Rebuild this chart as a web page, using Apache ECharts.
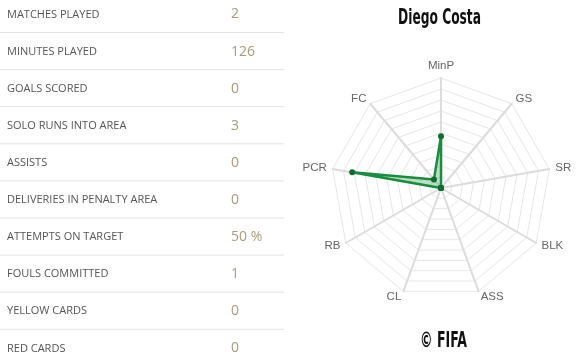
<!DOCTYPE html>
<html>
<head>
<meta charset="utf-8">
<script src="https://cdn.jsdelivr.net/npm/echarts@6/dist/echarts.min.js"></script>
<style>
html,body{margin:0;padding:0;background:#fff;}
#chart{width:580px;height:358px;}
</style>
</head>
<body>
<div id="chart"></div>
<script>
// Table data
var statLabels = ['MATCHES PLAYED','MINUTES PLAYED','GOALS SCORED','SOLO RUNS INTO AREA','ASSISTS','DELIVERIES IN PENALTY AREA','ATTEMPTS ON TARGET','FOULS COMMITTED','YELLOW CARDS','RED CARDS'];
var statValues = ['2','126','0','3','0','0','50 %','1','0','0'];

// Radar data (clockwise from top)
var radarAxes = ['MinP','GS','SR','BLK','ASS','CL','RB','PCR','FC'];
var radarValues = [0.47, 0, 0, 0, 0, 0, 0, 0.82, 0.10];
var radarMax = 1;

var playerName = 'Diego Costa';
var credit = '\u00A9 FIFA';

// ECharts places indicators counterclockwise, so reverse (keeping top first)
var order = [0].concat(radarAxes.map(function(_, i){return i;}).slice(1).reverse());
var indicators = order.map(function(i){ return {name: radarAxes[i], max: radarMax}; });
var values = order.map(function(i){ return radarValues[i]; });

// condensed heading font emulation: measure and squeeze horizontally
var headFont = 'bold 22px "DejaVu Sans", sans-serif';
var mctx = document.createElement('canvas').getContext('2d');
mctx.font = headFont;
function squeeze(txt, targetW){ return targetW / mctx.measureText(txt).width; }

var rowH = 37.1, row0 = 14.5;
var graphics = [];
statLabels.forEach(function(lbl, i){
  var cy = row0 + i*rowH;
  graphics.push({type:'text', x: 7, y: cy, style:{text: lbl, fill:'#555', font:'11px "Open Sans", sans-serif', textVerticalAlign:'middle'}});
  graphics.push({type:'text', x: 231, y: cy, style:{text: statValues[i], fill:'#a99c7c', font:'14px "Open Sans", sans-serif', textVerticalAlign:'middle'}});
  if (i < statLabels.length-1) {
    graphics.push({type:'line', shape:{x1:0, y1: cy+18, x2:284, y2: cy+18}, style:{stroke:'#e3e3e3', lineWidth:1}});
  }
});
graphics.push({type:'text', x: 439.5, y: 18.5, scaleX: squeeze(playerName, 83), style:{text: playerName, fill:'#111', font: headFont, textAlign:'center', textVerticalAlign:'middle'}});
graphics.push({type:'text', x: 443.5, y: 341.5, scaleX: squeeze(credit, 47), style:{text: credit, fill:'#111', font: headFont, textAlign:'center', textVerticalAlign:'middle'}});

var chart = echarts.init(document.getElementById('chart'), null, {renderer:'canvas'});
chart.setOption({
  animation: false,
  graphic: graphics,
  radar: {
    center: [441, 188],
    radius: 110,
    startAngle: 90,
    splitNumber: 10,
    shape: 'polygon',
    nameGap: 6,
    indicator: indicators,
    axisName: {color:'#666', fontSize: 11.5, fontFamily: '"Liberation Sans", Arial, sans-serif'},
    splitLine: {lineStyle: {color:'#e6e6e6', width: 1}},
    splitArea: {show: false},
    axisLine: {lineStyle: {color:'#dcdcdc', width: 2}},
    axisTick: {show:false},
    axisLabel: {show:false}
  },
  series: [{
    type: 'radar',
    symbol: 'circle',
    symbolSize: 6,
    lineStyle: {color:'#178a3e', width: 2.5},
    itemStyle: {color:'#0e6e30'},
    areaStyle: {color:'rgba(40,150,70,0.45)'},
    data: [{value: values, name: playerName}]
  }]
});
</script>
</body>
</html>
